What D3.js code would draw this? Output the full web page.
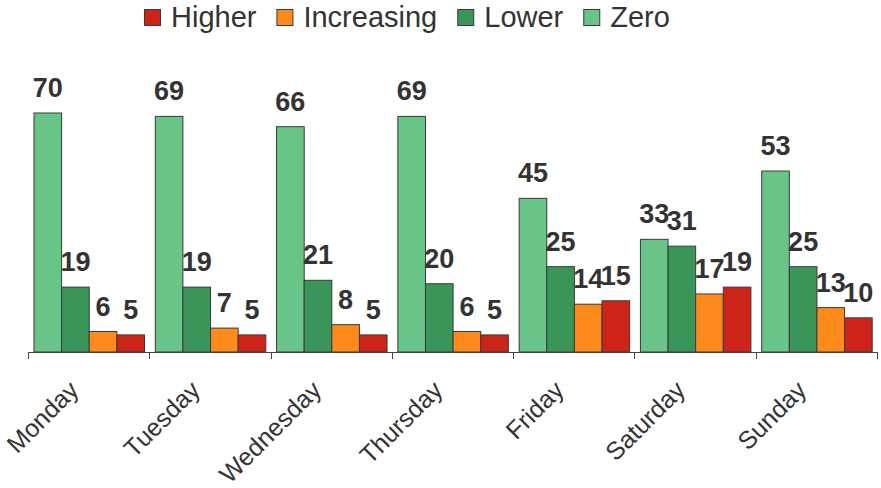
<!DOCTYPE html>
<html><head><meta charset="utf-8">
<script src="https://cdn.jsdelivr.net/npm/d3@7"></script>
<style>
html,body{margin:0;padding:0;background:#fff;}
svg{display:block;font-family:"Liberation Sans",Arial,sans-serif;}
</style></head>
<body>
<svg id="chart" width="881" height="488"></svg>
<script>
const days = ["Monday","Tuesday","Wednesday","Thursday","Friday","Saturday","Sunday"];
const seriesNames = ["Zero","Lower","Increasing","Higher"];
const legendOrder = ["Higher","Increasing","Lower","Zero"];
const zeroVals = [70,69,66,69,45,33,53];
const lowerVals = [19,19,21,20,25,31,25];
const increasingVals = [6,7,8,6,14,17,13];
const higherVals = [5,5,5,5,15,19,10];
const colors = {Zero:"#69c587", Lower:"#3a9658", Increasing:"#fd8a1a", Higher:"#cc2418"};

const values = {Zero: zeroVals, Lower: lowerVals, Increasing: increasingVals, Higher: higherVals};
const svg = d3.select("#chart");

const left = 28, right = 877, base = 352;
const x = d3.scaleBand().domain(days).range([left, right]).padding(0);
const xs = d3.scaleBand().domain(seriesNames).range([6, x.bandwidth() - 4.8]).padding(0);
const y = d3.scaleLinear().domain([0, 70]).range([base, 113]);

const g = svg.append("g");
days.forEach((day, i) => {
  const grp = g.append("g").attr("transform", `translate(${x(day)},0)`);
  seriesNames.forEach(s => {
    const v = values[s][i];
    grp.append("rect")
      .attr("x", xs(s)).attr("y", y(v))
      .attr("width", xs.bandwidth()).attr("height", base - y(v))
      .attr("fill", colors[s]).attr("stroke", "#3a3a3a").attr("stroke-width", 1);
  });
  seriesNames.forEach(s => {
    const v = values[s][i];
    grp.append("text")
      .attr("x", xs(s) + xs.bandwidth()/2).attr("y", y(v) - 16)
      .attr("text-anchor", "middle")
      .attr("font-size", 27).attr("font-weight", "bold").attr("fill", "#333")
      .text(v);
  });
});

// axis
const axis = svg.append("g").attr("transform", `translate(0,${base})`);
axis.append("line").attr("x1", left).attr("x2", right).attr("y1", 0.5).attr("y2", 0.5)
  .attr("stroke", "#444").attr("stroke-width", 1);
const tickPos = days.map(d => x(d)).concat([right]);
tickPos.forEach(t => {
  axis.append("line").attr("x1", Math.round(t)+0.5).attr("x2", Math.round(t)+0.5)
    .attr("y1", 0).attr("y2", 7).attr("stroke", "#444");
});
days.forEach(d => {
  axis.append("text")
    .attr("transform", `translate(${x(d) + x.bandwidth()/2 - 21},${27}) rotate(-45)`)
    .attr("text-anchor", "end").attr("dy", "0.71em")
    .attr("font-size", 25).attr("fill", "#333")
    .text(d);
});

// legend
const leg = svg.append("g").attr("transform", "translate(144,0)");
let lx = 0;
legendOrder.forEach(s => {
  const it = leg.append("g").attr("transform", `translate(${lx},0)`);
  it.append("rect").attr("x", 0.5).attr("y", 9.5).attr("width", 16).attr("height", 16)
    .attr("fill", colors[s]).attr("stroke", "#3a3a3a");
  const t = it.append("text").attr("x", 27).attr("y", 27)
    .attr("font-size", 29).attr("fill", "#333").text(s);
  lx += 27 + t.node().getComputedTextLength() + 20;
});
</script>
</body></html>
